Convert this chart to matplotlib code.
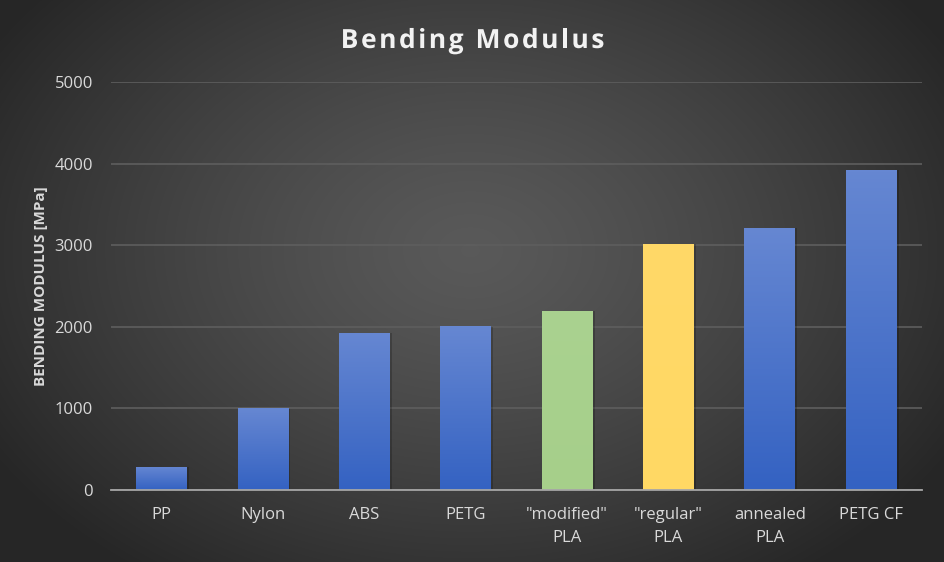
import numpy as np
import matplotlib.pyplot as plt
import matplotlib.patheffects as pe
from matplotlib.colors import to_rgb

# values
materials = ['PP', 'Nylon', 'ABS', 'PETG', '"modified"\nPLA', '"regular"\nPLA',
             'annealed\nPLA', 'PETG CF']
modulus = [285, 1000, 1930, 2010, 2200, 3020, 3215, 3925]
bar_kind = ['blue', 'blue', 'blue', 'blue', 'green', 'yellow', 'blue', 'blue']
yticks = [0, 1000, 2000, 3000, 4000, 5000]
title = 'Bending Modulus'

# top / bottom colours of each bar gradient
grad = {
    'blue': ('#6687d2', '#3462c2'),
    'green': ('#aad290', '#a6cf8a'),
    'yellow': ('#ffd968', '#ffd864'),
}

plt.rcParams['font.family'] = ['Open Sans', 'DejaVu Sans']
txt = '#d9d9d9'

fig = plt.figure(figsize=(9.45, 5.62), dpi=100)

# radial background
bg = fig.add_axes([0, 0, 1, 1], zorder=-10)
yy, xx = np.mgrid[0:562, 0:945]
r = np.sqrt(((xx - 470) / 560.0) ** 2 + ((yy - 250) / 400.0) ** 2)
r = np.clip(r, 0, 1)
shade = 0.35 - 0.20 * r ** 1.3
bg.imshow(np.dstack([shade] * 3), extent=[0, 1, 0, 1], aspect='auto')
bg.axis('off')

ax = fig.add_axes([0.1175, 0.1281, 0.858, 0.7259])
ax.set_facecolor('none')

x = np.arange(len(materials))
bars = ax.bar(x, modulus, width=0.5, zorder=3)
for b, kind in zip(bars, bar_kind):
    top, bot = grad[kind]
    b.set_facecolor(bot)
    b.set_path_effects([pe.SimplePatchShadow(offset=(1.5, -0.5), shadow_rgbFace='black', alpha=0.2),
                        pe.Normal()])
    c1, c2 = np.array(to_rgb(top)), np.array(to_rgb(bot))
    t = np.linspace(0, 1, 100)[:, None]
    img = (c1 * (1 - t) + c2 * t)[:, None, :]
    bx, by = b.get_x(), b.get_y()
    im = ax.imshow(img, extent=[bx, bx + b.get_width(), by, by + b.get_height()],
                   aspect='auto', zorder=4)
    im.set_clip_path(b)

ax.set_xlim(-0.5, len(materials) - 0.5)
ax.set_ylim(0, 5000)
ax.set_yticks(yticks)
ax.set_xticks(x)
ax.set_xticklabels(materials, color=txt, fontsize=12, linespacing=1.6)
ax.tick_params(axis='y', colors=txt, labelsize=12, length=0, pad=13)
ax.tick_params(axis='x', colors=txt, length=0, pad=12)
ax.yaxis.grid(True, color='#5e5e5e', linewidth=1.2, zorder=0)
ax.set_axisbelow(True)
for s in ['top', 'right', 'left']:
    ax.spines[s].set_visible(False)
ax.spines['bottom'].set_color('#a6a6a6')
ax.spines['bottom'].set_linewidth(1.3)
ax.spines['bottom'].set_zorder(5)

ax.set_ylabel('BENDING MODULUS [MPa]', color=txt, fontsize=11, fontweight='bold', labelpad=5)

# title with letter spacing: place each character separately
renderer = fig.canvas.get_renderer()
spacing = 2.6  # px between letters
tfx = dict(color='#f2f2f2', fontsize=19, fontweight='bold', va='baseline', ha='left',
           path_effects=[pe.SimpleLineShadow(offset=(1.5, -1.5), alpha=0.4), pe.Normal()])
chars, widths = [], []
for ch in title:
    tt = fig.text(0, 0.9, ch, **tfx)
    w = tt.get_window_extent(renderer).width if ch != ' ' else 19 * 100 / 72 * 0.26
    chars.append(tt)
    widths.append(w)
total = sum(widths) + spacing * (len(title) - 1)
xpos = (945 - total) / 2
for tt, w in zip(chars, widths):
    tt.set_x(xpos / 945)
    tt.set_y(1 - 48 / 562)
    xpos += w + spacing

fig.savefig('out.png', dpi=100)
